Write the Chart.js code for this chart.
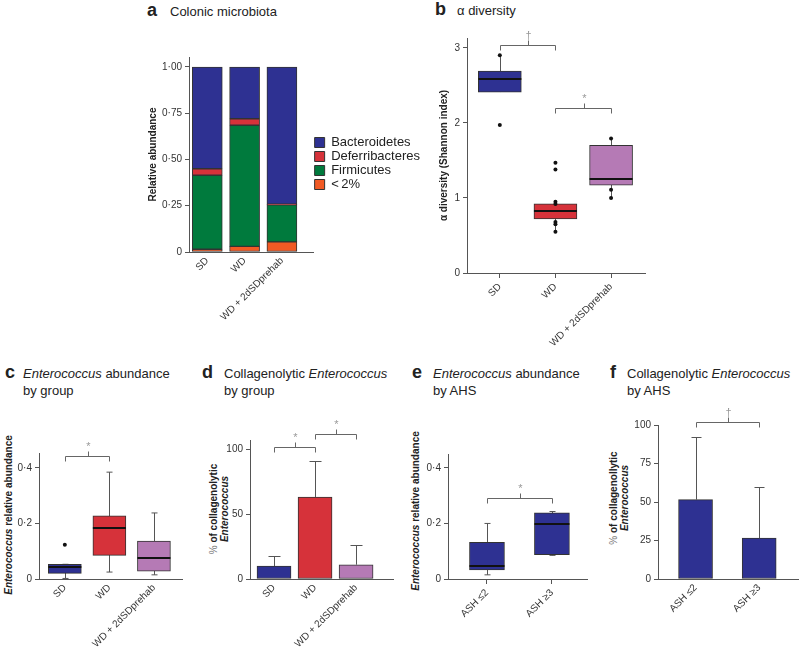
<!DOCTYPE html>
<html lang="en">
<head>
<meta charset="UTF-8">
<title>Colonic microbiota and Enterococcus</title>
<style>
  body { margin:0; width:800px; height:649px; background:#fff; position:relative; overflow:hidden;
         font-family:'Liberation Sans', Arial, sans-serif; color:#222; }
  canvas { position:absolute; }
  .lt { position:absolute; font-size:18px; line-height:18px; font-weight:bold; }
  .tt { position:absolute; font-size:13px; line-height:17px; white-space:nowrap; }
  .yt { position:absolute; font-size:10px; font-weight:bold; line-height:11px; white-space:nowrap; text-align:center;
        transform:translate(-50%,-50%) rotate(-90deg); }
  .pc { font-weight:normal; color:#777; }
</style>
</head>
<body>
<div class="lt" style="left:147px;top:1px">a</div><div class="tt" style="left:170px;top:3px">Colonic microbiota</div>
<div class="lt" style="left:435px;top:0px">b</div><div class="tt" style="left:457px;top:2px">α diversity</div>
<div class="lt" style="left:5px;top:363px">c</div><div class="tt" style="left:23px;top:365px"><i>Enterococcus</i> abundance<br>by group</div>
<div class="lt" style="left:202px;top:363px">d</div><div class="tt" style="left:224px;top:365px">Collagenolytic <i>Enterococcus</i><br>by group</div>
<div class="lt" style="left:412px;top:363px">e</div><div class="tt" style="left:433px;top:365px"><i>Enterococcus</i> abundance<br>by AHS</div>
<div class="lt" style="left:610px;top:363px">f</div><div class="tt" style="left:627px;top:365px">Collagenolytic <i>Enterococcus</i><br>by AHS</div>

<div class="yt" style="left:8px;top:515px"><i>Enterococcus</i> relative abundance</div>
<div class="yt" style="left:219px;top:509px"><span class="pc">%</span> of collagenolytic<br><i>Enterococcus</i></div>
<div class="yt" style="left:415px;top:511px"><i>Enterococcus</i> relative abundance</div>
<div class="yt" style="left:619px;top:498px"><span class="pc">%</span> of collagenollytic<br><i>Enterococcus</i></div>

<script src="https://cdn.jsdelivr.net/npm/chart.js"></script>
<script>
// ---- a: colonic microbiota (stacked, bottom to top)
const groups = ['SD', 'WD', 'WD + 2dSDprehab'];
const lowAbund = [0.015, 0.03, 0.055];
const firmicutes = [0.40, 0.655, 0.20];
const deferribacteres = [0.035, 0.035, 0.003];
const bacteroidetes = [0.55, 0.28, 0.742];
const ticksA = [0, 0.25, 0.5, 0.75, 1];

// ---- b: alpha diversity boxes
const bQ1 = [2.41, 0.72, 1.17];
const bQ3 = [2.69, 0.92, 1.70];
const bMed = [2.59, 0.82, 1.25];
const bLo = [2.41, 0.55, 1.00];
const bHi = [2.90, 0.95, 1.79];
const bDotsSD = [2.90, 1.97];
const bDotsWD = [1.47, 1.38, 0.95, 0.92, 0.68, 0.65, 0.55];
const bDotsPre = [1.79, 1.11, 1.00];
const ticksB = [0, 1, 2, 3];

// ---- c: enterococcus abundance by group
const cQ1 = [0.020, 0.085, 0.028];
const cQ3 = [0.053, 0.228, 0.137];
const cMed = [0.045, 0.185, 0.077];
const cLo = [0.002, 0.025, 0.015];
const cHi = [0.053, 0.385, 0.238];
const cDotsSD = [0.123];
const ticksAbund = [0, 0.2, 0.4];

// ---- d: collagenolytic % by group
const dMean = [10, 63, 11];
const dErrTop = [18, 91, 26];
const ticksD = [0, 50, 100];

// ---- e: enterococcus abundance by AHS
const ahs = ['ASH ≤2', 'ASH ≥3'];
const eQ1 = [0.033, 0.088];
const eQ3 = [0.132, 0.238];
const eMed = [0.048, 0.197];
const eLo = [0.015, 0.085];
const eHi = [0.200, 0.243];

// ---- f: collagenolytic % by AHS
const fMean = [51.5, 26.5];
const fErrTop = [92, 60];
const ticksF = [0, 25, 50, 75, 100];

// significance brackets
const sigB = [{from: 0, to: 1, y: 3.04, mark: '†'}, {from: 1, to: 2, y: 2.2, mark: '*'}];
const sigC = [{from: 0, to: 1, y: 0.443, mark: '*'}];
const sigD = [{from: 0, to: 1, y: 101.5, mark: '*'}, {from: 1, to: 2, y: 112, mark: '*'}];
const sigE = [{from: 0, to: 1, y: 0.292, mark: '*'}];
const sigF = [{from: 0, to: 1, y: 102, mark: '†'}];

const BLUE = '#2e3192', RED = '#d6323a', GREEN = '#007a3d', ORANGE = '#f15a24', PURPLE = '#b57ab5';
const EDGE = '#333', AXIS = '#555';

Chart.defaults.font.family = "'Liberation Sans', Arial, sans-serif";
Chart.defaults.font.size = 10;
Chart.defaults.color = '#333';

const dot2 = v => v === 0 ? '0' : v.toFixed(2).replace('.', '·');
const dot1 = v => v === 0 ? '0' : v.toFixed(1).replace('.', '·');
const plain = v => String(v);

function addCanvas(left, top, w, h) {
  const c = document.createElement('canvas');
  c.width = w; c.height = h;
  c.style.left = left + 'px'; c.style.top = top + 'px';
  document.body.appendChild(c);
  return c;
}

function yAxis(vals, fmt, max, width, title) {
  return {
    type: 'linear', min: 0, max: max,
    afterBuildTicks: s => { s.ticks = vals.map(v => ({value: v})); },
    ticks: {callback: fmt, padding: 3, color: '#333'},
    grid: {drawOnChartArea: false, tickLength: 4, color: AXIS},
    border: {color: AXIS},
    title: title ? {display: true, text: title, color: '#222', font: {size: 10, weight: 'bold'}, padding: {top: 2, bottom: 2}}
                 : {display: false},
    afterFit: s => { s.width = width; }
  };
}

function xAxis(cats, min, max, height, ticksOn) {
  return {
    type: 'linear', min: min, max: max, offset: false,
    afterBuildTicks: s => { s.ticks = cats.map((c, i) => ({value: i})); },
    ticks: {callback: v => cats[v], autoSkip: false, minRotation: 45, maxRotation: 45, padding: 3, color: '#333'},
    grid: {drawOnChartArea: false, drawTicks: ticksOn, tickLength: 5, offset: false, color: AXIS},
    border: {color: AXIS},
    afterFit: s => { s.height = height; }
  };
}

function whiskers(lo, hi, cap) {
  return {
    id: 'whiskers',
    beforeDatasetsDraw(chart) {
      const {ctx, scales: {x, y}} = chart;
      ctx.save(); ctx.strokeStyle = AXIS; ctx.lineWidth = 1;
      lo.forEach((l, i) => {
        const px = Math.round(x.getPixelForValue(i)) + 0.5;
        const yl = y.getPixelForValue(l), yh = y.getPixelForValue(hi[i]);
        ctx.beginPath();
        ctx.moveTo(px, yh); ctx.lineTo(px, yl);
        if (cap) {
          ctx.moveTo(px - cap, yh); ctx.lineTo(px + cap, yh);
          ctx.moveTo(px - cap, yl); ctx.lineTo(px + cap, yl);
        }
        ctx.stroke();
      });
      ctx.restore();
    }
  };
}

// bars are always dataset 0
function medians(med) {
  return {
    id: 'medians',
    afterDatasetsDraw(chart) {
      const {ctx, scales: {y}} = chart;
      const bars = chart.getDatasetMeta(0).data;
      ctx.save(); ctx.strokeStyle = '#111'; ctx.lineWidth = 2;
      med.forEach((m, i) => {
        const el = bars[i], py = Math.round(y.getPixelForValue(m));
        ctx.beginPath(); ctx.moveTo(el.x - el.width / 2, py); ctx.lineTo(el.x + el.width / 2, py); ctx.stroke();
      });
      ctx.restore();
    }
  };
}

function errorBars(tops, cap) {
  return {
    id: 'errorBars',
    afterDatasetsDraw(chart) {
      const {ctx, scales: {y}} = chart;
      const bars = chart.getDatasetMeta(0).data;
      ctx.save(); ctx.strokeStyle = AXIS; ctx.lineWidth = 1;
      tops.forEach((t, i) => {
        const px = Math.round(bars[i].x) + 0.5, pt = Math.round(y.getPixelForValue(t)) + 0.5;
        ctx.beginPath();
        ctx.moveTo(px, bars[i].y); ctx.lineTo(px, pt);
        ctx.moveTo(px - cap, pt); ctx.lineTo(px + cap, pt);
        ctx.stroke();
      });
      ctx.restore();
    }
  };
}

function brackets(list) {
  return {
    id: 'brackets',
    afterDraw(chart) {
      const {ctx, scales: {x, y}} = chart;
      ctx.save(); ctx.strokeStyle = '#666'; ctx.lineWidth = 1; ctx.fillStyle = '#999';
      ctx.font = "11px 'Liberation Sans', Arial, sans-serif"; ctx.textAlign = 'center'; ctx.textBaseline = 'bottom';
      list.forEach(b => {
        const x1 = Math.round(x.getPixelForValue(b.from)) + 0.5, x2 = Math.round(x.getPixelForValue(b.to)) + 0.5;
        const yy = Math.round(y.getPixelForValue(b.y)) + 0.5, xm = Math.round((x1 + x2) / 2) + 0.5;
        ctx.beginPath();
        ctx.moveTo(x1, yy + 5); ctx.lineTo(x1, yy); ctx.lineTo(x2, yy); ctx.lineTo(x2, yy + 5);
        ctx.moveTo(xm, yy); ctx.lineTo(xm, yy - 5);
        ctx.stroke();
        ctx.fillText(b.mark, xm, yy - 4);
      });
      ctx.restore();
    }
  };
}

const pts = (arr, i) => arr.map(v => ({x: i, y: v}));
const floating = (q1, q3) => q1.map((v, i) => ({x: i, y: [v, q3[i]]}));
const atIndex = arr => arr.map((v, i) => ({x: i, y: v}));

function boxChart(canvas, pad, cats, xr, xh, ticksOn, yCfg, q1, q3, colors, thick, dots, extra) {
  return new Chart(canvas, {
    type: 'bar',
    data: {
      datasets: [
        {data: floating(q1, q3), backgroundColor: colors, borderColor: EDGE, borderWidth: 1,
         borderSkipped: false, barThickness: thick, order: 1},
        {type: 'scatter', data: dots, pointRadius: 2, pointBackgroundColor: '#111', pointBorderWidth: 0, order: 0}
      ]
    },
    options: {
      responsive: false, animation: false,
      layout: {padding: pad},
      plugins: {legend: {display: false}, tooltip: {enabled: false}},
      scales: {x: xAxis(cats, xr[0], xr[1], xh, ticksOn), y: yCfg}
    },
    plugins: extra
  });
}

// ---------- a
new Chart(addCanvas(145, 40, 285, 290), {
  type: 'bar',
  data: {
    datasets: [
      {label: '<\u20092%', data: atIndex(lowAbund), backgroundColor: ORANGE},
      {label: 'Firmicutes', data: atIndex(firmicutes), backgroundColor: GREEN},
      {label: 'Deferribacteres', data: atIndex(deferribacteres), backgroundColor: RED},
      {label: 'Bacteroidetes', data: atIndex(bacteroidetes), backgroundColor: BLUE}
    ].map(d => Object.assign(d, {borderColor: EDGE, borderWidth: 1, borderSkipped: false, barThickness: 30}))
  },
  options: {
    responsive: false, animation: false,
    layout: {padding: {top: 17, right: 0, left: 0, bottom: 0}},
    plugins: {
      tooltip: {enabled: false},
      legend: {position: 'right', reverse: true, align: 'start', maxWidth: 133,
               title: {display: true, text: ' ', font: {size: 10}, padding: {top: 66, bottom: 0}},
               labels: {boxWidth: 10, boxHeight: 10, padding: 1, color: '#222', font: {size: 13}}}
    },
    scales: {
      x: Object.assign(xAxis(groups, -0.49, 2.85, 78, false), {stacked: true}),
      y: Object.assign(yAxis(ticksA, dot2, 1.054, 44, 'Relative abundance'), {stacked: true})
    }
  }
});

// ---------- b
boxChart(addCanvas(436, 20, 224, 330), {top: 18, right: 15, left: 0, bottom: 0},
  groups, [-0.59, 2.61], 77, true, yAxis(ticksB, plain, 3.13, 31, 'α diversity (Shannon index)'),
  bQ1, bQ3, [BLUE, RED, PURPLE], 43,
  [...pts(bDotsSD, 0), ...pts(bDotsWD, 1), ...pts(bDotsPre, 2)],
  [whiskers(bLo, bHi, 0), medians(bMed), brackets(sigB)]);

// ---------- c
boxChart(addCanvas(10, 430, 190, 219), {top: 23, right: 18, left: 0, bottom: 0},
  groups, [-0.58, 2.63], 70, false, yAxis(ticksAbund, dot1, 0.454, 29),
  cQ1, cQ3, [BLUE, RED, PURPLE], 33, pts(cDotsSD, 0),
  [whiskers(cLo, cHi, 3), medians(cMed), brackets(sigC)]);

// ---------- d
new Chart(addCanvas(222, 410, 178, 239), {
  type: 'bar',
  data: {datasets: [{data: atIndex(dMean), backgroundColor: [BLUE, RED, PURPLE], borderColor: EDGE,
                     borderWidth: 1, borderSkipped: false, barThickness: 34}]},
  options: {
    responsive: false, animation: false,
    layout: {padding: {top: 30, right: 7, left: 0, bottom: 0}},
    plugins: {legend: {display: false}, tooltip: {enabled: false}},
    scales: {x: xAxis(groups, -0.585, 2.9, 70, false), y: yAxis(ticksD, plain, 107, 28)}
  },
  plugins: [errorBars(dErrTop, 6), brackets(sigD)]
});

// ---------- e
boxChart(addCanvas(422, 430, 173, 219), {top: 24, right: 8, left: 0, bottom: 0},
  ahs, [-0.6, 1.54], 70, true, yAxis(ticksAbund, dot1, 0.45, 26),
  eQ1, eQ3, [BLUE, BLUE], 35, [],
  [whiskers(eLo, eHi, 3), medians(eMed), brackets(sigE)]);

// ---------- f
new Chart(addCanvas(628, 400, 172, 249), {
  type: 'bar',
  data: {datasets: [{data: atIndex(fMean), backgroundColor: BLUE, borderColor: EDGE,
                     borderWidth: 1, borderSkipped: false, barThickness: 34}]},
  options: {
    responsive: false, animation: false,
    layout: {padding: {top: 25, right: 2, left: 0, bottom: 0}},
    plugins: {legend: {display: false}, tooltip: {enabled: false}},
    scales: {x: xAxis(ahs, -0.59, 1.61, 70, false), y: yAxis(ticksF, plain, 100, 30)}
  },
  plugins: [errorBars(fErrTop, 5), brackets(sigF)]
});
</script>
</body>
</html>
